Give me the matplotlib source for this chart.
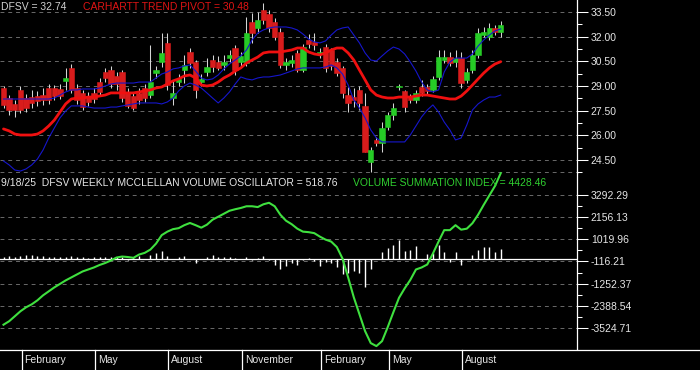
import matplotlib
matplotlib.use("Agg")
import matplotlib.pyplot as plt
import matplotlib.transforms as mtransforms
import numpy as np
import pandas as pd

plt.rcParams['font.family'] = ['Liberation Sans', 'DejaVu Sans']

# ---------------- data ----------------
dates = pd.date_range(end='2025-09-19', periods=89, freq='W-FRI')

opens = [28.88, 28.27, 27.91, 28.76, 28.27, 28.33, 28.39, 28.45, 28.88, 28.88,
         28.82, 29.31, 30.10, 28.88, 28.58, 28.39, 28.58, 29.24, 29.85, 29.97,
         29.61, 29.85, 28.64, 28.39, 28.58, 28.88, 28.45, 29.79, 30.46, 31.62,
         28.27, 29.24, 29.97, 31.07, 30.46, 29.24, 29.85, 30.58, 30.46, 30.28,
         30.70, 31.31, 30.46, 30.40, 32.89, 32.53, 33.62, 33.38, 32.89, 32.29,
         30.28, 30.40, 31.01, 29.97, 31.80, 31.68, 31.01, 31.37, 31.19, 30.46,
         30.10, 28.45, 28.33, 28.76, 27.79, 24.38, 25.72, 25.54, 26.51, 27.24,
         28.91, 28.70, 28.33, 28.15, 28.94, 28.94, 28.76, 29.55, 30.58, 30.76,
         30.46, 30.70, 29.37, 29.97, 30.89, 32.10, 31.98, 32.53, 32.29]
highs = [29.00, 28.45, 28.15, 29.00, 28.52, 28.76, 28.70, 28.88, 29.12, 29.06,
         29.12, 30.10, 30.34, 29.12, 28.76, 28.64, 28.88, 29.49, 30.10, 30.22,
         29.85, 29.97, 28.88, 28.64, 28.88, 29.12, 31.49, 30.22, 32.22, 32.22,
         29.37, 29.73, 30.89, 31.31, 30.58, 29.73, 30.70, 30.89, 30.83, 30.89,
         31.19, 31.49, 31.07, 33.20, 33.44, 33.50, 34.05, 33.62, 33.14, 32.53,
         30.70, 30.89, 31.19, 31.56, 32.16, 32.22, 31.31, 31.56, 31.31, 30.70,
         30.22, 28.94, 28.88, 29.00, 28.58, 25.29, 25.90, 26.81, 27.42, 27.97,
         29.12, 28.76, 28.52, 28.76, 29.37, 29.12, 29.61, 31.19, 31.19, 31.07,
         31.19, 31.07, 30.10, 31.19, 32.53, 32.59, 32.83, 32.71, 32.95]
lows = [27.66, 27.24, 27.12, 27.36, 27.42, 27.66, 27.79, 27.85, 27.91, 28.15,
        28.21, 28.76, 28.58, 27.91, 27.54, 27.79, 27.97, 28.39, 29.24, 28.88,
        28.76, 28.03, 27.66, 27.54, 27.91, 28.03, 28.27, 29.49, 30.16, 28.76,
        27.85, 29.00, 29.18, 30.10, 28.27, 29.00, 29.61, 29.85, 29.97, 29.97,
        30.46, 29.67, 30.22, 30.22, 31.62, 32.22, 32.77, 32.29, 31.80, 30.10,
        29.97, 30.16, 29.85, 29.85, 31.31, 31.19, 30.70, 29.85, 29.97, 29.61,
        28.27, 27.42, 27.72, 27.54, 24.99, 23.77, 25.35, 24.99, 26.33, 26.93,
        28.76, 27.42, 27.97, 27.97, 28.39, 28.52, 28.64, 29.37, 30.40, 30.22,
        30.16, 28.88, 29.18, 29.79, 30.70, 31.98, 31.80, 32.10, 31.98]
closes = [27.85, 27.54, 27.54, 27.54, 27.66, 27.97, 28.09, 28.15, 28.15, 28.39,
          28.39, 29.49, 28.76, 28.15, 27.72, 28.03, 28.21, 28.64, 29.49, 29.12,
          29.12, 28.27, 27.79, 27.66, 28.15, 28.27, 29.24, 29.97, 31.01, 29.06,
          28.58, 29.43, 30.28, 30.40, 28.76, 29.43, 30.16, 30.16, 30.10, 30.46,
          30.89, 29.97, 30.83, 32.22, 32.22, 33.01, 33.01, 32.53, 31.98, 30.28,
          30.46, 30.58, 29.97, 31.37, 31.56, 31.49, 31.07, 30.10, 30.22, 29.79,
          28.58, 27.97, 28.15, 27.97, 24.99, 25.11, 25.54, 26.45, 27.24, 27.66,
          28.97, 27.72, 28.15, 28.58, 28.58, 28.70, 29.43, 30.76, 30.76, 30.40,
          30.70, 29.18, 29.85, 30.89, 32.22, 32.29, 32.53, 32.29, 32.74]

trend_pivot = [26.39, 26.27, 26.08, 26.02, 26.02, 26.02, 26.08, 26.27, 26.57, 26.93,
               27.42, 27.91, 28.21, 28.27, 28.27, 28.33, 28.33, 28.39, 28.45, 28.58,
               28.58, 28.58, 28.58, 28.58, 28.64, 28.70, 28.76, 28.88, 28.94, 29.12,
               29.31, 29.43, 29.61, 29.67, 29.49, 29.06, 29.00, 29.06, 29.24, 29.49,
               29.67, 29.91, 30.10, 30.40, 30.58, 30.76, 31.01, 31.07, 31.07, 31.07,
               31.13, 31.19, 31.31, 31.31, 31.07, 30.95, 30.89, 31.01, 31.19, 31.31,
               31.31, 31.01, 30.58, 29.97, 29.37, 28.76, 28.45, 28.33, 28.27, 28.27,
               28.33, 28.33, 28.33, 28.39, 28.45, 28.45, 28.39, 28.33, 28.27, 28.21,
               28.21, 28.39, 28.70, 29.06, 29.43, 29.79, 30.10, 30.34, 30.48]

upper_band = [28.21, 28.21, 28.21, 28.21, 28.21, 28.21, 28.21, 28.21, 28.21, 28.27,
              28.45, 28.64, 28.76, 28.76, 28.82, 28.82, 28.82, 28.88, 29.00, 29.12,
              29.18, 29.18, 29.18, 29.18, 29.24, 29.24, 29.24, 29.49, 29.73, 29.85,
              30.04, 30.10, 30.22, 30.28, 29.91, 29.49, 29.37, 29.43, 29.67, 30.04,
              30.34, 30.58, 30.83, 31.19, 31.80, 32.22, 32.41, 32.53, 32.59, 32.59,
              32.59, 32.53, 32.41, 32.16, 31.86, 31.68, 31.62, 31.74, 32.10, 32.41,
              32.53, 32.59, 32.10, 31.62, 31.01, 30.58, 30.52, 30.83, 31.13, 31.37,
              31.25, 30.95, 30.46, 29.91, 29.24, 28.76, 28.64, 28.76, 29.85, 30.46,
              30.70, 30.70, 30.70, 30.95, 31.43, 31.80, 32.10, 32.35, 32.47]
lower_band = [24.44, 24.20, 23.89, 23.83, 23.96, 24.20, 24.56, 25.11, 25.84, 26.45,
              27.06, 27.48, 27.79, 27.79, 27.79, 27.72, 27.66, 27.66, 27.66, 27.72,
              27.72, 27.79, 27.85, 27.91, 27.97, 27.97, 27.97, 27.97, 27.91, 28.03,
              28.27, 28.70, 29.00, 29.18, 29.06, 28.88, 28.58, 28.27, 27.97, 28.27,
              28.64, 29.12, 29.55, 29.43, 29.37, 29.49, 29.55, 29.55, 29.61, 29.67,
              29.79, 29.91, 30.04, 30.10, 30.10, 30.10, 30.10, 30.16, 30.28, 30.10,
              29.73, 29.06, 28.15, 27.66, 27.06, 26.33, 25.84, 25.60, 25.60, 25.60,
              25.60, 25.60, 26.02, 26.57, 27.12, 27.54, 27.85, 27.42, 26.81, 26.33,
              25.72, 25.84, 26.63, 27.54, 27.91, 28.15, 28.33, 28.33, 28.45]

mcclellan_osc = [103, 190, 103, 190, 220, 220, 190, 154, 138, 138,
                 118, 138, 190, 138, 103, 87, 103, 103, 103, 118,
                 138, 103, -15, 103, 190, 15, 241, 323, 446, 190,
                 15, 103, 154, 5, -190, 5, 138, 220, 103, 138,
                 138, 67, 15, 103, -15, 51, 154, -36, -292, -513,
                 -343, -220, -272, -51, 67, -103, -343, -138, -220, -395,
                 -784, -733, -615, -733, -1420, -528, 10, 374, 579, 753,
                 974, 410, 497, 666, -51, 292, 343, 753, 374, -138,
                 374, -308, 36, 241, 461, 630, 630, 374, 518.76]
summation_index = [-3372, -3193, -2937, -2680, -2475, -2322, -2117, -1860, -1655, -1450,
                   -1271, -1092, -938, -784, -630, -528, -425, -297, -195, -67,
                   87, 138, 113, 72, 241, 328, 497, 805, 1240, 1420,
                   1548, 1599, 1753, 1866, 1753, 1625, 1778, 2035, 2188, 2342,
                   2496, 2573, 2639, 2727, 2727, 2686, 2829, 2906, 2727, 2291,
                   1983, 1804, 1573, 1420, 1394, 1343, 1163, 1010, 907, 625,
                   36, -938, -1963, -2834, -3705, -4320, -4474, -4218, -3500, -2732,
                   -1989, -1502, -1066, -528, -425, -272, 292, 907, 1497, 1497,
                   1753, 1522, 1573, 1855, 2291, 2803, 3290, 3777, 4428.46]

price_ticks = [33.50, 32.00, 30.50, 29.00, 27.50, 26.00, 24.50]
osc_ticks = [3292.29, 2156.13, 1019.96, -116.21, -1252.37, -2388.54, -3524.71]
label_months = [2, 5, 8, 11]

# ---------------- layout ----------------
W, H = 700, 370
BG = 'black'
RED = '#d81c1c'
GREEN = '#26cc26'
WICK = '#d4d4d4'
BLUE = '#1616cc'
PIVOT = '#f01010'
VSI = '#3fe03f'
GRID = '#6a6a6a'
TXT = '#e6e6e6'

fig = plt.figure(figsize=(7, 3.7), dpi=100, facecolor=BG)


def rect(x0, y0, x1, y1):
    return [x0 / W, 1 - y1 / H, (x1 - x0) / W, (y1 - y0) / H]


ax1 = fig.add_axes(rect(0, 0, 577, 173))
ax2 = fig.add_axes(rect(0, 173, 577, 350))
ax3 = fig.add_axes(rect(0, 350, 700, 370))

X0, DX = 3.5, 5.65
x = np.arange(len(closes))
for a in (ax1, ax2):
    a.set_xlim(-X0 / DX, (577 - X0) / DX)
ax3.set_xlim(-X0 / DX, (700 - X0) / DX)

ax1.set_ylim(23.71, 34.23)
ax2.set_ylim(-4675, 4440)
ax3.set_ylim(0, 1)

for a in (ax1, ax2, ax3):
    a.set_facecolor(BG)
    for s in a.spines.values():
        s.set_visible(False)
    a.tick_params(axis='x', bottom=False, labelbottom=False)

for a in (ax1, ax2):
    a.spines['right'].set_visible(True)
    a.spines['right'].set_color('white')
    a.spines['right'].set_linewidth(0.9)
ax3.spines['top'].set_visible(True)
ax3.spines['top'].set_color('white')
ax3.spines['top'].set_linewidth(0.9)
ax3.set_yticks([])

# grid lines
for v in price_ticks + [price_ticks[-1] - 0.75]:
    ax1.axhline(v, color=GRID, lw=0.7, ls=(0, (4, 4)), zorder=0)
for v in osc_ticks:
    ax2.axhline(v, color=GRID, lw=0.7, ls=(0, (4, 4)), zorder=0)

# ---------------- candles ----------------
o = np.array(opens); h = np.array(highs); l = np.array(lows); c = np.array(closes)
up = c >= o
cols = np.where(up, GREEN, RED)
ax1.vlines(x, l, h, color=WICK, lw=0.75, zorder=2)
body_lo = np.minimum(o, c)
body_h = np.maximum(np.abs(c - o), 0.06)
ax1.bar(x, body_h, bottom=body_lo, width=0.95, color=cols, edgecolor=cols,
        linewidth=0.4, zorder=3)

ax1.plot(x, upper_band, color=BLUE, lw=0.8, zorder=4)
ax1.plot(x, lower_band, color=BLUE, lw=0.8, zorder=4)
ax1.plot(x, trend_pivot, color=PIVOT, lw=2.0, zorder=5, solid_capstyle='round')

# ---------------- oscillator ----------------
ax2.axhline(0, color='white', lw=0.9, zorder=3)
ax2.vlines(x, 0, mcclellan_osc, color='white', lw=1.0, zorder=4)
ax2.plot(x, summation_index, color=VSI, lw=1.5, zorder=5, clip_on=False)

# ---------------- y ticks ----------------
ax1.yaxis.tick_right()
ax1.set_yticks(price_ticks)
ax1.set_yticklabels([f'{v:.2f}' for v in price_ticks])
p_minor = [v + 0.75 for v in price_ticks[1:]] + [price_ticks[-1] - 0.75]
ax1.set_yticks(p_minor, minor=True)

ax2.yaxis.tick_right()
ax2.set_yticks(osc_ticks)
ax2.set_yticklabels([f'{v:.2f}' for v in osc_ticks])
o_minor = [(a + b) / 2 for a, b in zip(osc_ticks[:-1], osc_ticks[1:])]
ax2.set_yticks(o_minor, minor=True)

for a in (ax1, ax2):
    a.tick_params(axis='y', which='major', direction='out', length=7.9, width=0.75,
                  color='white', labelcolor=TXT, labelsize=7.5, pad=2.0)
    a.tick_params(axis='y', which='minor', direction='out', length=3.6, width=0.75,
                  color='white')

# ---------------- month axis ----------------
trans = mtransforms.blended_transform_factory(ax3.transData, ax3.transAxes)
for i in range(1, len(dates)):
    if dates[i].month != dates[i - 1].month and dates[i].month in label_months:
        xp = i + 0.2
        ax3.plot([xp, xp], [0, 1], color='white', lw=0.9, transform=trans, clip_on=False)
        ax3.text(xp + 3 / DX, 0.5, dates[i].strftime('%B'), color=TXT, fontsize=7.5,
                 va='center', ha='left', transform=trans)

# ---------------- header texts ----------------
fs = 7.5
fig.text(1 / W, 1 - 6.5 / H, f'DFSV = {closes[-1]:.2f}', color='#d0d0d0', fontsize=fs,
         va='center', ha='left')
fig.text(83 / W, 1 - 6.5 / H, f'CARHARTT TREND PIVOT = {trend_pivot[-1]:.2f}', color='#e01414',
         fontsize=fs, va='center', ha='left')
last = dates[-1] - pd.Timedelta(days=1)
fig.text(1 / W, 1 - 183 / H,
         f'{last.month}/{last.day}/{last.strftime("%y")}  DFSV WEEKLY MCCLELLAN VOLUME OSCILLATOR = {mcclellan_osc[-1]:.2f}',
         color=TXT, fontsize=fs, va='center', ha='left')
fig.text(353 / W, 1 - 183 / H, f'VOLUME SUMMATION INDEX = {summation_index[-1]:.2f}',
         color='#30d030', fontsize=fs, va='center', ha='left')

fig.savefig('out.png', dpi=100, facecolor=BG)
